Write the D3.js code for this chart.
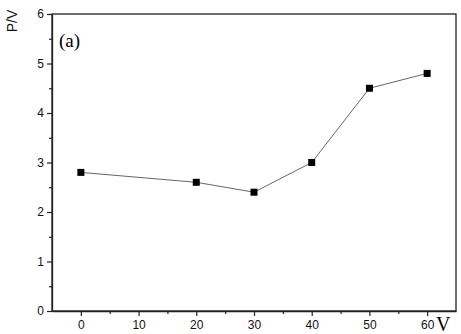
<!DOCTYPE html>
<html><head><meta charset="utf-8">
<script src="https://cdn.jsdelivr.net/npm/d3@7"></script>
<style>body{margin:0;background:#fff}svg{display:block}</style>
</head><body>
<svg id="c" width="461" height="334"></svg>
<script>
const xValues = [0, 20, 30, 40, 50, 60];
const yValues = [2.8, 2.6, 2.4, 3.0, 4.5, 4.8];
const xTicks = [0, 10, 20, 30, 40, 50, 60];
const yTicks = [0, 1, 2, 3, 4, 5, 6];
const xLabel = "V";
const yLabel = "P/V";
const panelLabel = "(a)";

const svg = d3.select("#c");
const L = 52, R = 456, T = 14, B = 311;
const x = d3.scaleLinear().domain([-5, 65]).range([L, R]);
const y = d3.scaleLinear().domain([0, 6]).range([B, T]);

svg.append("rect").attr("x", L).attr("y", T).attr("width", R - L).attr("height", B - T)
  .attr("fill", "none").attr("stroke", "#222").attr("stroke-width", 1.3);

const font = "'Liberation Sans', Arial, sans-serif";
svg.append("g").attr("transform", `translate(0,${B})`)
  .call(d3.axisBottom(x).tickValues(xTicks).tickFormat(d3.format("d")).tickSize(5).tickPadding(4).tickSizeOuter(0));
svg.append("g").attr("transform", `translate(0,${B})`)
  .call(d3.axisBottom(x).tickValues([5,15,25,35,45,55]).tickSize(3).tickFormat("").tickSizeOuter(0))
  .call(g => g.select(".domain").remove());
svg.append("g").attr("transform", `translate(${L},0)`)
  .call(d3.axisLeft(y).tickValues(yTicks).tickFormat(d3.format("d")).tickSize(5).tickPadding(3).tickSizeOuter(0));
svg.append("g").attr("transform", `translate(${L},0)`)
  .call(d3.axisLeft(y).tickValues([0.5,1.5,2.5,3.5,4.5,5.5]).tickSize(3).tickFormat("").tickSizeOuter(0))
  .call(g => g.select(".domain").remove());
svg.selectAll(".domain").attr("stroke", "#222").attr("stroke-width", 1.3);
svg.selectAll(".tick line").attr("stroke", "#222").attr("stroke-width", 1.2);
svg.selectAll(".tick text").attr("font-family", font).attr("font-size", 12).attr("fill", "#111");

svg.append("path").datum(xValues.map((v, i) => [v, yValues[i]]))
  .attr("fill", "none").attr("stroke", "#555").attr("stroke-width", 0.9)
  .attr("d", d3.line().x(d => x(d[0])).y(d => y(d[1])));
svg.selectAll("rect.m").data(xValues.map((v, i) => [v, yValues[i]])).enter()
  .append("rect").attr("class", "m")
  .attr("x", d => x(d[0]) - 3.5).attr("y", d => y(d[1]) - 3.5)
  .attr("width", 7).attr("height", 7).attr("fill", "#000");

svg.append("text").attr("transform", "translate(17,21) rotate(-90)")
  .attr("text-anchor", "middle").attr("font-family", font).attr("font-size", 14)
  .attr("fill", "#111").text(yLabel);
svg.append("text").attr("x", 59).attr("y", 47)
  .attr("font-family", "'Liberation Serif', 'Times New Roman', serif").attr("font-size", 19)
  .attr("fill", "#000").text(panelLabel);
svg.append("text").attr("x", 436).attr("y", 331)
  .attr("font-family", "'Liberation Serif', 'Times New Roman', serif").attr("font-size", 20)
  .attr("fill", "#000").text(xLabel);
</script>
</body></html>
